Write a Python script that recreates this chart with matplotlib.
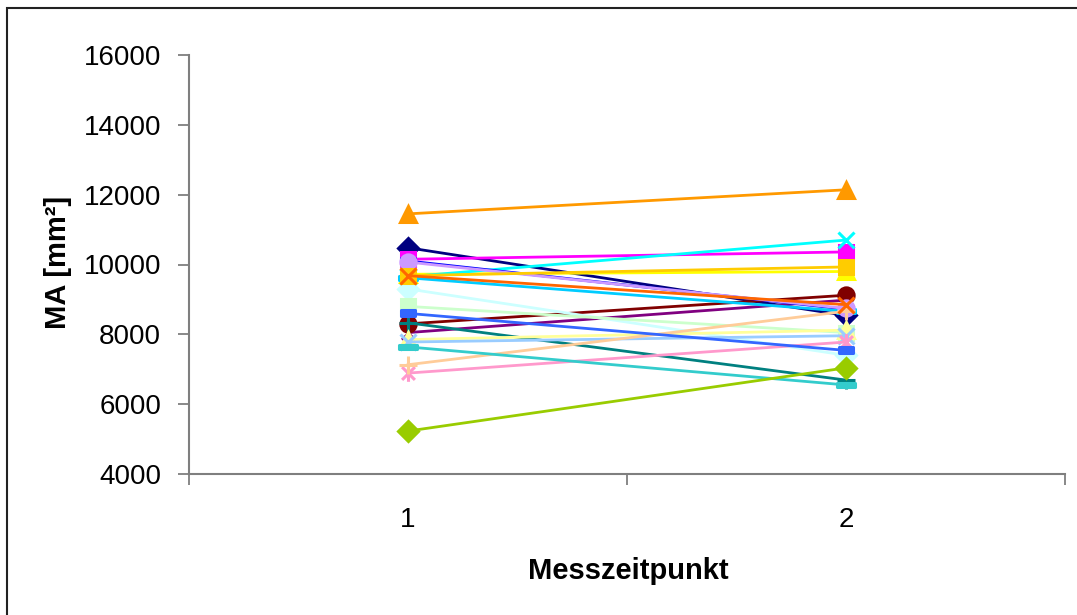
import matplotlib
matplotlib.use("Agg")
import matplotlib.pyplot as plt
from matplotlib.path import Path
from matplotlib.patches import Rectangle

plt.rcParams['font.family'] = ['Liberation Sans', 'DejaVu Sans']

# Measurement points and MA values per subject (mm²)
messzeitpunkt = [1, 2]
ma_t1 = [10480, 10150, 9720, 9650, 8050, 8300, 8330, 10100, 9620, 9300, 8800,
         7850, 7780, 6890, 10070, 7130, 8600, 7640, 5230, 9680, 11450, 9680]
ma_t2 = [8540, 10360, 9800, 10700, 8980, 9120, 6690, 8720, 8660, 7400, 8050,
         8120, 7960, 7780, 8740, 8660, 7540, 6550, 7040, 9930, 12140, 8850]
y_ticks = [4000, 6000, 8000, 10000, 12000, 14000, 16000]

# Series colours (classic office palette) and marker cycle
colors = ['#000080', '#FF00FF', '#FFFF00', '#00FFFF', '#800080', '#800000',
          '#008080', '#0000FF', '#00CCFF', '#CCFFFF', '#CCFFCC', '#FFFF99',
          '#99CCFF', '#FF99CC', '#CC99FF', '#FFCC99', '#3366FF', '#33CCCC',
          '#99CC00', '#FFCC00', '#FF9900', '#FF6600']

star = Path([(-1, -1), (1, 1), (-1, 1), (1, -1), (0, -1.3), (0, 1.3)],
            [Path.MOVETO, Path.LINETO, Path.MOVETO, Path.LINETO,
             Path.MOVETO, Path.LINETO])
dash = Path([(-1, -0.4), (1, -0.4), (1, 0.4), (-1, 0.4), (-1, -0.4)],
            [Path.MOVETO, Path.LINETO, Path.LINETO, Path.LINETO, Path.CLOSEPOLY])
long_dash = Path([(-1, -0.25), (1, -0.25), (1, 0.25), (-1, 0.25), (-1, -0.25)],
                 [Path.MOVETO, Path.LINETO, Path.LINETO, Path.LINETO, Path.CLOSEPOLY])
marker_cycle = [('D', 10.5), ('s', 9.5), ('^', 11), ('x', 11), (star, 12),
                ('o', 11), ('+', 13), (dash, 10), (long_dash, 13)]

fig = plt.figure(figsize=(10.77, 6.15), dpi=100)
ax = fig.add_axes([189 / 1077, 1 - 474 / 615, (1065 - 189) / 1077, (474 - 55) / 615])

for i, color in enumerate(colors):
    m, ms = marker_cycle[i % len(marker_cycle)]
    ax.plot(messzeitpunkt, [ma_t1[i], ma_t2[i]], color=color, lw=2.0,
            marker=m, markersize=ms, markerfacecolor=color,
            markeredgecolor=color, markeredgewidth=2.2, zorder=2 + i * 0.01)

ax.set_xlim(0.5, 2.5)
ax.set_ylim(4000, 16000)
ax.set_yticks(y_ticks)
ax.set_yticklabels([str(v) for v in y_ticks], fontsize=20)

# category ticks between categories, labels centred on categories
ax.set_xticks([0.5, 1.5, 2.5])
ax.set_xticklabels([])
ax.set_xticks(messzeitpunkt, minor=True)
ax.set_xticklabels([str(v) for v in messzeitpunkt], minor=True, fontsize=20)
ax.tick_params(axis='x', which='minor', length=0, pad=24)
ax.tick_params(axis='x', which='major', length=8, direction='out',
               color='#7f7f7f', width=1.3)
ax.tick_params(axis='y', length=8, direction='out', color='#7f7f7f',
               width=1.3, pad=12)

for s in ('top', 'right'):
    ax.spines[s].set_visible(False)
for s in ('left', 'bottom'):
    ax.spines[s].set_color('#7f7f7f')
    ax.spines[s].set_linewidth(1.5)

fig.text(58 / 1077, 1 - 262 / 615, 'MA [mm²]', fontsize=21, fontweight='bold',
         rotation=90, ha='center', va='center')
fig.text(628 / 1077, 1 - 571 / 615, 'Messzeitpunkt', fontsize=21,
         fontweight='bold', ha='center', va='center')

# outer chart frame
fig.patches.append(Rectangle((7 / 1077, -0.05), 1.2, 1 - 8 / 615 + 0.05,
                             transform=fig.transFigure, fill=False,
                             edgecolor='#222222', linewidth=1.5))

fig.savefig('out.png', dpi=100)
